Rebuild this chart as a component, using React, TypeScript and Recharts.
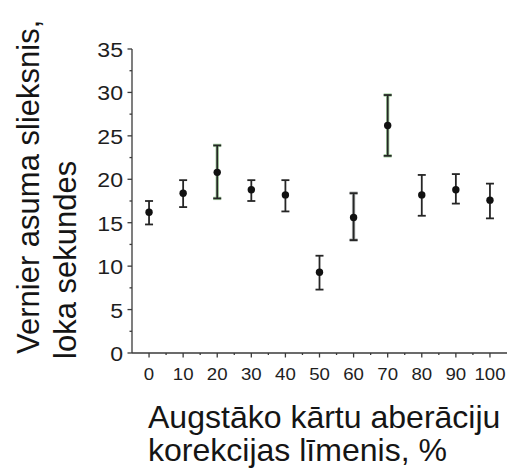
import { ScatterChart, Scatter, XAxis, YAxis, ErrorBar, Label } from "recharts"

// correction level, % (x) and Vernier threshold, arc seconds (y)
const levels = [0, 10, 20, 30, 40, 50, 60, 70, 80, 90, 100]
const means = [16.2, 18.4, 20.8, 18.8, 18.2, 9.3, 15.6, 26.2, 18.2, 18.8, 17.6]
const upper = [17.5, 19.9, 23.9, 19.9, 19.9, 11.2, 18.4, 29.7, 20.5, 20.6, 19.5]
const lower = [14.8, 16.8, 17.8, 17.5, 16.3, 7.3, 13.0, 22.7, 15.8, 17.2, 15.5]
const barTint = ["dark", "dark", "green", "dark", "dark", "dark", "grey", "green", "dark", "dark", "dark"]

const xTicks = [0, 5, 10, 15, 20, 25, 30, 35, 40, 45, 50, 55, 60, 65, 70, 75, 80, 85, 90, 95, 100]
const yTicks = [0, 2.5, 5, 7.5, 10, 12.5, 15, 17.5, 20, 22.5, 25, 27.5, 30, 32.5, 35]

const xTitle = ["Augstāko kārtu aberāciju", "korekcijas līmenis, %"]
const yTitle = ["Vernier asuma slieksnis,", "loka sekundes"]

const FONT = "'Liberation Sans', Arial, sans-serif"
const AXIS = "#3a3a3a"

const rows = levels.map((level, i) => ({
  level,
  mean: means[i],
  err: [+(means[i] - lower[i]).toFixed(2), +(upper[i] - means[i]).toFixed(2)],
  tint: barTint[i],
}))

// eslint-disable-next-line @typescript-eslint/no-explicit-any
function XTick({ x, y, payload }: any) {
  const major = payload.value % 10 === 0
  return (
    <g>
      <line x1={x} x2={x} y1={y} y2={y + (major ? 4.5 : 2)} stroke={AXIS} strokeWidth={1.3} />
      {major && (
        <text
          transform={`translate(${x},${y + 26.5}) scale(1.13,1)`}
          textAnchor="middle"
          fontSize={16.5}
          fontFamily={FONT}
          fill="#1e1e1e"
        >
          {payload.value}
        </text>
      )}
    </g>
  )
}

// eslint-disable-next-line @typescript-eslint/no-explicit-any
function YTick({ x, y, payload }: any) {
  const major = payload.value % 5 === 0
  return (
    <g>
      <line x1={x - (major ? 4.5 : 2.5)} x2={x} y1={y} y2={y} stroke={AXIS} strokeWidth={1.3} />
      {major && (
        <text
          transform={`translate(${x - 9},${y + 8}) scale(1.1,1)`}
          textAnchor="end"
          fontSize={21}
          fontFamily={FONT}
          fill="#1e1e1e"
        >
          {payload.value}
        </text>
      )}
    </g>
  )
}

// eslint-disable-next-line @typescript-eslint/no-explicit-any
function XTitle({ viewBox }: any) {
  const { x, y } = viewBox
  return (
    <g fontSize={30.5} fontFamily={FONT} fill="#151515">
      <text transform={`translate(${x + 16},${y + 75}) scale(1.05,1)`}>{xTitle[0]}</text>
      <text transform={`translate(${x + 16},${y + 108}) scale(1.05,1)`}>{xTitle[1]}</text>
    </g>
  )
}

// eslint-disable-next-line @typescript-eslint/no-explicit-any
function YTitle({ viewBox }: any) {
  const { x, y, height } = viewBox
  const bottom = y + height
  return (
    <g fontSize={31} fontFamily={FONT} fill="#151515">
      <text transform={`translate(${x + 38.5},${bottom + 1}) rotate(-90)`}>{yTitle[0]}</text>
      <text transform={`translate(${x + 75.5},${bottom + 6}) rotate(-90)`}>{yTitle[1]}</text>
    </g>
  )
}

// eslint-disable-next-line @typescript-eslint/no-explicit-any
const Dot = (p: any) => <circle cx={p.cx} cy={p.cy} r={3.7} fill="#111" />

const groups = [
  { key: "dark", under: null },
  { key: "green", under: "#a8d4a4" },
  { key: "grey", under: "#b9bcbc" },
]

export default function App() {
  return (
    <div style={{ width: 511, height: 468, background: "#fff" }}>
      <style>{"body{margin:0}"}</style>
      <ScatterChart width={511} height={468} margin={{ top: 49, right: 4, bottom: 0, left: 0 }}>
        <XAxis
          type="number"
          dataKey="level"
          domain={[-5, 105]}
          ticks={xTicks}
          interval={0}
          height={115}
          tickSize={0}
          tickMargin={0}
          tickLine={false}
          tick={<XTick />}
          stroke={AXIS}
          strokeWidth={1.3}
        >
          <Label content={<XTitle />} />
        </XAxis>
        <YAxis
          type="number"
          dataKey="mean"
          domain={[0, 35]}
          ticks={yTicks}
          interval={0}
          width={132}
          tickSize={0}
          tickMargin={0}
          tickLine={false}
          tick={<YTick />}
          stroke={AXIS}
          strokeWidth={1.3}
        >
          <Label content={<YTitle />} />
        </YAxis>
        {groups.map((g) => (
          <Scatter
            key={g.key}
            data={rows.filter((r) => r.tint === g.key)}
            shape={<Dot />}
            isAnimationActive={false}
          >
            {g.under && (
              <ErrorBar dataKey="err" direction="y" width={4} stroke={g.under} strokeWidth={3.4} />
            )}
            <ErrorBar dataKey="err" direction="y" width={4} stroke="#262626" strokeWidth={1.8} />
          </Scatter>
        ))}
      </ScatterChart>
    </div>
  )
}
